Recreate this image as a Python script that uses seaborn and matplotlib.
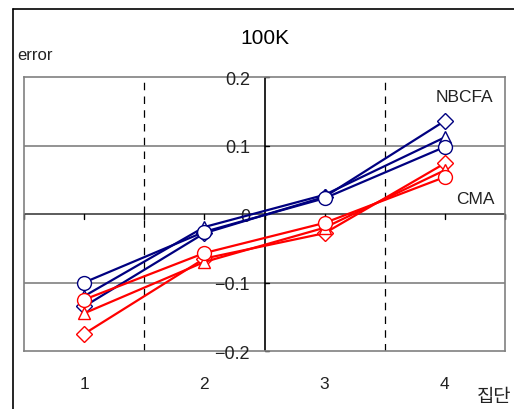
import numpy as np
import pandas as pd
import matplotlib
matplotlib.use("Agg")
import matplotlib.pyplot as plt
from matplotlib.lines import Line2D
import seaborn as sns

# data
groups = [1, 2, 3, 4]
nbcfa_diamond = [-0.135, -0.028, 0.025, 0.136]
nbcfa_triangle = [-0.12, -0.019, 0.028, 0.112]
nbcfa_circle = [-0.100, -0.026, 0.023, 0.098]
cma_diamond = [-0.175, -0.065, -0.028, 0.074]
cma_triangle = [-0.145, -0.070, -0.020, 0.064]
cma_circle = [-0.125, -0.057, -0.013, 0.054]
y_ticks = [0.2, 0.1, 0.0, -0.1, -0.2]
y_tick_labels = ["0.2", "0.1", "0", "\u22120.1", "\u22120.2"]

series = [
    ("NBCFA", "D", nbcfa_diamond), ("NBCFA", "^", nbcfa_triangle), ("NBCFA", "o", nbcfa_circle),
    ("CMA", "D", cma_diamond), ("CMA", "^", cma_triangle), ("CMA", "o", cma_circle),
]
colors = {"NBCFA": "#000080", "CMA": "#ff0000"}
msize = {"D": 8, "^": 9, "o": 10}

sns.set_style("white")
plt.rcParams["font.family"] = ["Liberation Sans", "Noto Sans CJK KR", "DejaVu Sans"]

fig = plt.figure(figsize=(5.14, 4.10), dpi=100)
ax = fig.add_axes([24 / 514, 58 / 410, 481 / 514, 274 / 410])

# outer frame (left and top edges visible)
fig.add_artist(Line2D([13 / 514, 13 / 514], [0, 400 / 410], color="black", lw=1.2))
fig.add_artist(Line2D([13 / 514, 1], [400 / 410, 400 / 410], color="black", lw=1.2))

for s in ax.spines.values():
    s.set_color("#808080")
    s.set_linewidth(1.2)

# grid and axes lines
for yv in [0.1, -0.1]:
    ax.axhline(yv, color="#808080", lw=1.2, zorder=1)
ax.axhline(0, color="#404040", lw=1.2, zorder=1)
ax.axvline(2.5, color="black", lw=1.2, zorder=1)
for xv in [1.5, 3.5]:
    ax.axvline(xv, color="black", lw=0.9, ls=(0, (6, 5)), zorder=1)

# ticks on the crossing axes
for xv in np.arange(0.5, 4.51, 0.5):
    ax.plot([xv, xv], [0, -0.007], color="black", lw=1.0, clip_on=False, zorder=1)
for yv, lab in zip(y_ticks, y_tick_labels):
    ax.plot([2.5, 2.54], [yv, yv], color="black", lw=1.0, clip_on=False, zorder=1)
    ax.text(2.38, yv - 0.003, lab, ha="right", va="center", fontsize=13, color="#222222")

for g in groups:
    ax.text(g, -0.247, str(g), ha="center", va="center", fontsize=12.5, color="#222222",
            clip_on=False)

for name, mk, vals in series:
    df = pd.DataFrame({"group": groups, "error": vals})
    sns.lineplot(data=df, x="group", y="error", ax=ax, color=colors[name], lw=1.6,
                 marker=mk, markersize=msize[mk], markerfacecolor="white",
                 markeredgecolor=colors[name], markeredgewidth=1.0, zorder=3)

ax.set_xlabel("")
ax.set_ylabel("")
ax.set_xlim(0.5, 4.5)
ax.set_ylim(-0.2, 0.2)
ax.set_xticks([])
ax.set_yticks([])

ax.text(4.16, 0.171, "NBCFA", ha="center", va="center", fontsize=12.5, color="#222222")
ax.text(4.25, 0.023, "CMA", ha="center", va="center", fontsize=12.5, color="#222222")

fig.text(265 / 514, 1 - 38 / 410, "100K", ha="center", va="center", fontsize=15, color="black")
fig.text(17 / 514, 1 - 55 / 410, "error", ha="left", va="center", fontsize=12, color="#222222")
fig.text(494 / 514, 1 - 397 / 410, "집단", ha="center", va="center", fontsize=13.5,
         color="#222222", family=["Noto Sans CJK KR", "DejaVu Sans"])

fig.savefig("out.png", dpi=100)
